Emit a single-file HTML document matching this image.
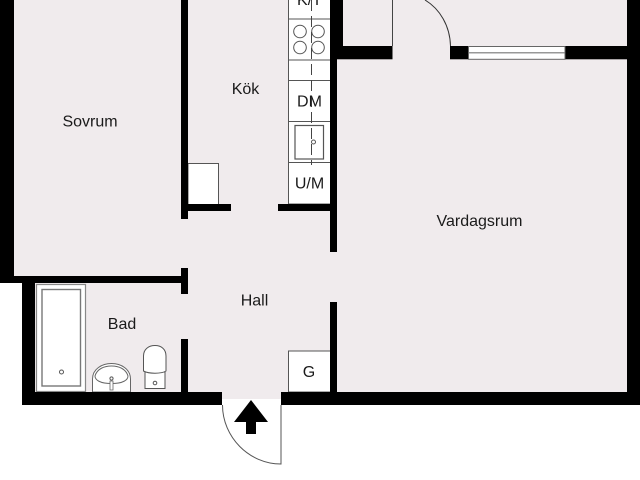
<!DOCTYPE html>
<html>
<head>
<meta charset="utf-8">
<style>
html,body{margin:0;padding:0;background:#fff;width:640px;height:480px;overflow:hidden}
svg{display:block}
text{font-family:"Liberation Sans",sans-serif;font-size:16px;fill:#1a1a1a;text-anchor:middle}
</style>
</head>
<body>
<svg width="640" height="480" viewBox="0 0 640 480" xmlns="http://www.w3.org/2000/svg">
<rect width="640" height="480" fill="#fff"/>
<!-- floor -->
<path d="M14 0H627V392H281V399H222V392H35V283H14Z" fill="#f0ebed"/>
<!-- counter -->
<rect x="288.5" y="-1" width="42" height="205" fill="#fff" stroke="#555" stroke-width="1"/>
<g stroke="#555" stroke-width="1" fill="none">
<path d="M288.5 19H330M288.5 60H330M288.5 80.5H330M288.5 121.5H330M288.5 162.5H330"/>
<circle cx="300" cy="31.5" r="6.3"/><circle cx="318" cy="31.5" r="6.3"/>
<circle cx="300" cy="47.5" r="6.3"/><circle cx="318" cy="47.5" r="6.3"/>
<rect x="295" y="125.5" width="28.5" height="33.5" stroke-width="1.2"/>
<circle cx="313.5" cy="142" r="2"/>
</g>
<path d="M311.5 0V165" stroke="#444" stroke-width="1" stroke-dasharray="11 5" fill="none"/>
<!-- fridge, G -->
<rect x="188" y="163.5" width="30.5" height="41" fill="#fff" stroke="#555"/>
<rect x="288.5" y="351" width="42" height="41" fill="#fff" stroke="#555"/>
<!-- bath -->
<rect x="36.5" y="284.5" width="49" height="107" fill="#fff" stroke="#888" stroke-width="1.2"/>
<rect x="42" y="289.5" width="38.5" height="96.5" fill="#fff" stroke="#777" stroke-width="1.4"/>
<circle cx="61.5" cy="372" r="2" fill="#fff" stroke="#555"/>
<!-- basin -->
<path d="M92.5 392V379C92.5 369 102 363.5 111.5 363.5C121 363.5 130.5 369 130.5 379V392Z" fill="#fff" stroke="#666" stroke-width="1"/>
<path d="M95 376C97 369 104 366 111.500 366C119 366 126 369 128 376C128 380 123 383.500 111.500 383.500C100 383.500 95 380 95 376Z" fill="#fff" stroke="#666" stroke-width="1"/>
<circle cx="111.500" cy="378.500" r="1.600" fill="#fff" stroke="#555"/>
<path d="M110 381H113V390H110Z" fill="#fff" stroke="#666" stroke-width=".8"/>
<!-- toilet -->
<path d="M145 372V388.500H165V372Z" fill="#fff" stroke="#555" stroke-width="1"/>
<path d="M143.500 371V356C143.500 349 149 345.500 155 345.500C161 345.500 166 349 166 356V371C161 374 149 374 143.500 371Z" fill="#fff" stroke="#555" stroke-width="1"/>
<circle cx="155" cy="383" r="1.800" fill="#fff" stroke="#555"/>
<!-- walls -->
<g fill="#000">
<rect x="0" y="0" width="14" height="283"/>
<rect x="0" y="276" width="188" height="7"/>
<rect x="22" y="276" width="13" height="129"/>
<rect x="181" y="268" width="7" height="26"/>
<rect x="181" y="339" width="7" height="53"/>
<rect x="22" y="392" width="200" height="13"/>
<rect x="281" y="392" width="359" height="13"/>
<rect x="627" y="0" width="13" height="405"/>
<rect x="181" y="0" width="7" height="219"/>
<rect x="188" y="204" width="43" height="7"/>
<rect x="278" y="204" width="59" height="7"/>
<rect x="330" y="0" width="7" height="252"/>
<rect x="330" y="0" width="13" height="59"/>
<rect x="330" y="46" width="62.500" height="13.300"/>
<rect x="330" y="302" width="7" height="90"/>
<rect x="450" y="46" width="18.500" height="13.300"/>
<rect x="565" y="46" width="62" height="13.300"/>
</g>
<!-- window -->
<rect x="468.500" y="46.500" width="96.500" height="12.800" fill="#fff" stroke="#666" stroke-width="1"/>
<path d="M468.500 52.800H565" stroke="#777" stroke-width="1.200"/>
<!-- doors -->
<path d="M392.500 0V46" stroke="#444" stroke-width="1" fill="none"/>
<path d="M425 0C440 9 450 26 450.500 46" stroke="#333" stroke-width="1" fill="none"/>
<path d="M222.500 405C222.500 437 249 464 281 464V405" stroke="#555" stroke-width="1" fill="none"/>
<!-- arrow -->
<path d="M251 400L268 422H256V434H246V422H234Z" fill="#000"/>
<!-- labels -->
<text x="90" y="126.500">Sovrum</text>
<text x="245.500" y="94">Kök</text>
<text x="479.500" y="226">Vardagsrum</text>
<text x="254.500" y="305.500">Hall</text>
<text x="122" y="329">Bad</text>
<text x="309" y="377">G</text>
<text x="309.500" y="106.500">DM</text>
<text x="309.500" y="188.500">U/M</text>
<text x="309.500" y="5">K/T</text>
</svg>
</body>
</html>
